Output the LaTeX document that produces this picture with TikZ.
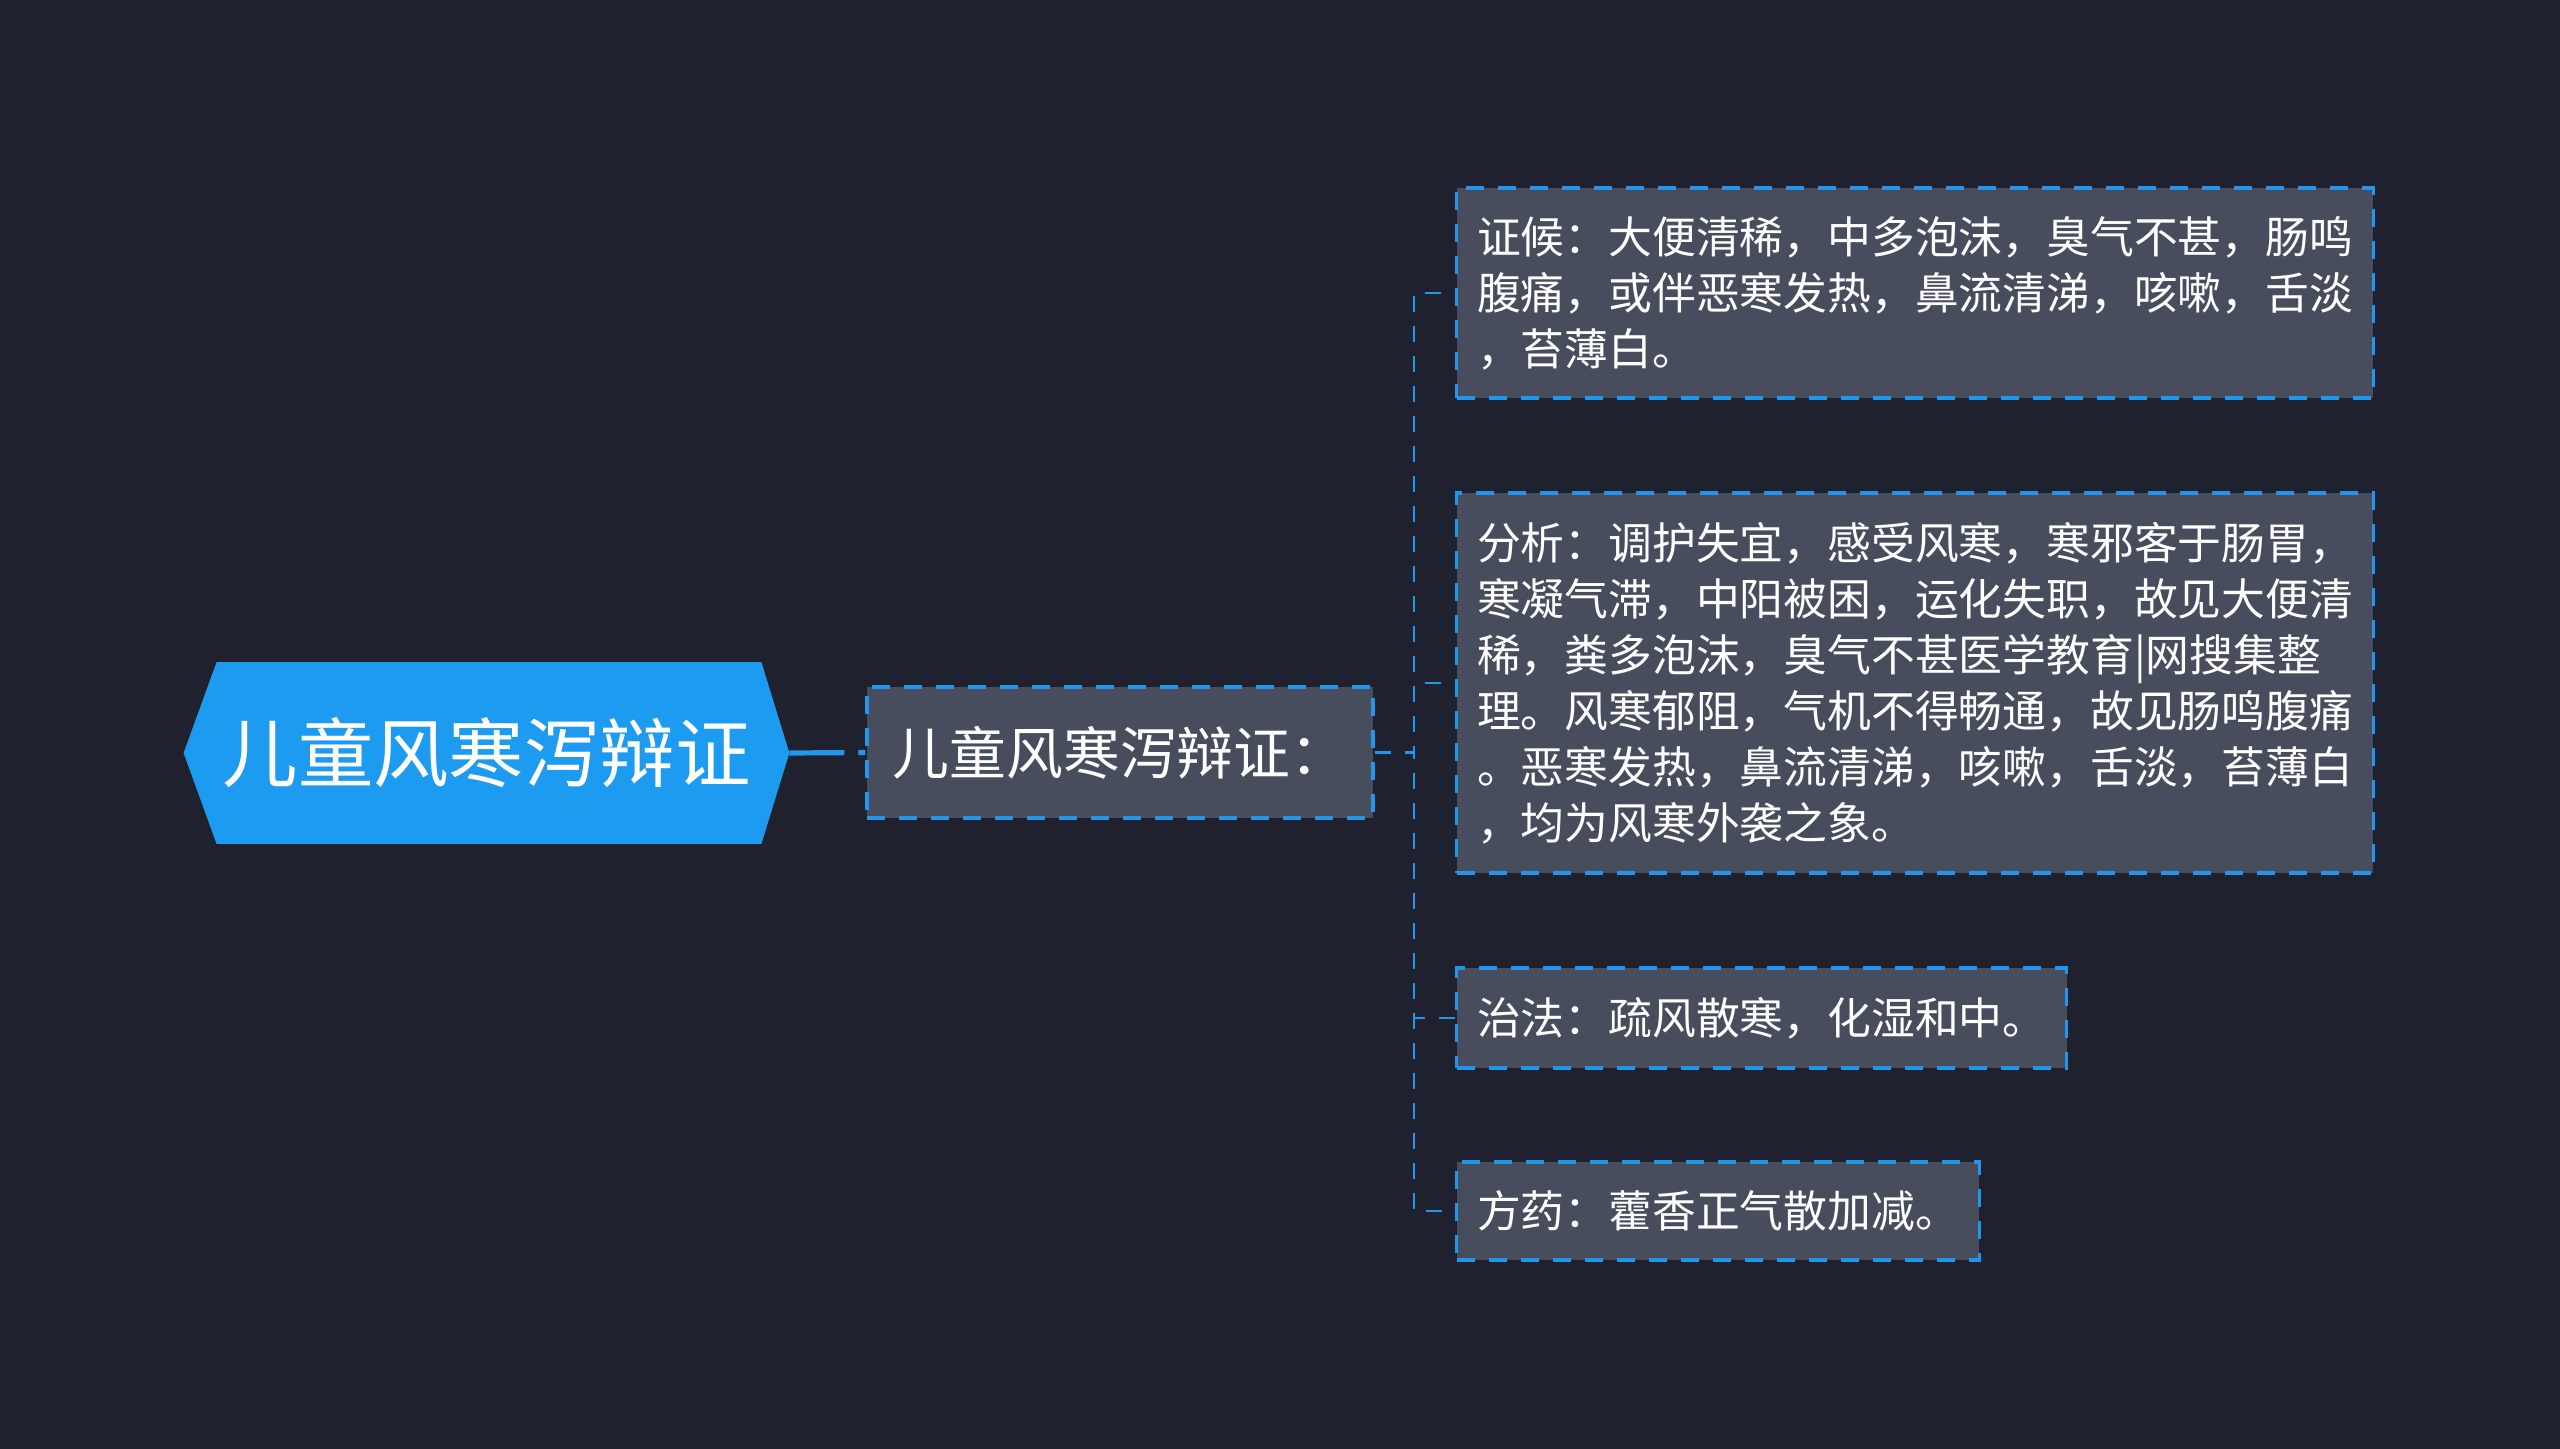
\documentclass[tikz,border=0pt]{standalone}
\usepackage{fontspec}
\newfontfamily\cjk{Noto Sans CJK SC}
\usetikzlibrary{calc}
\definecolor{bgcol}{HTML}{1F222E}
\definecolor{boxcol}{HTML}{474D5C}
\definecolor{linecol}{HTML}{2196EA}
\definecolor{rootcol}{HTML}{1D9BF0}
\pgfdeclarelayer{bg}
\pgfsetlayers{bg,main}
\tikzset{
  rootbox/.style={inner sep=0pt, minimum width=302.5pt, minimum height=90.5pt, text=white,
    font=\cjk\fontsize{37.7pt}{45pt}\selectfont},
  mainbox/.style={draw=linecol, fill=boxcol, line width=1.6pt, dash pattern=on 9pt off 7pt,
    inner xsep=12.9pt, inner ysep=0pt, minimum height=65.5pt, text=white,
    font=\cjk\fontsize{28.4pt}{34pt}\selectfont},
  leafbox/.style={draw=linecol, fill=boxcol, line width=1.6pt, dash pattern=on 9pt off 7pt,
    inner xsep=10.2pt, inner ysep=0pt, align=left, anchor=west, text=white,
    font=\cjk\fontsize{21.9pt}{28pt}\selectfont},
  link/.style={draw=linecol, line width=1.4pt, dash pattern=on 8pt off 7pt},
  rootlink/.style={draw=linecol, line width=2.6pt, dash pattern=on 27.5pt off 7pt on 5pt off 10pt}
}
\begin{document}
\begin{tikzpicture}[x=0.5pt, y=-0.5pt]
\useasboundingbox (0,0) rectangle (2560,1449);
\node[rootbox] (root) at (486.5,753) {儿童风寒泻辩证};
\node[mainbox] (main) at (1120,752.5) {儿童风寒泻辩证：};
\node[leafbox, minimum height=105pt] (c1) at (1455,293) {证候：大便清稀，中多泡沫，臭气不甚，肠鸣\\腹痛，或伴恶寒发热，鼻流清涕，咳嗽，舌淡\\，苔薄白。};
\node[leafbox, minimum height=190pt] (c2) at (1455,683) {分析：调护失宜，感受风寒，寒邪客于肠胃，\\寒凝气滞，中阳被困，运化失职，故见大便清\\稀，粪多泡沫，臭气不甚医学教育|网搜集整\\理。风寒郁阻，气机不得畅通，故见肠鸣腹痛\\。恶寒发热，鼻流清涕，咳嗽，舌淡，苔薄白\\，均为风寒外袭之象。};
\node[leafbox, minimum height=50pt] (c3) at (1455,1018) {治法：疏风散寒，化湿和中。};
\node[leafbox, minimum height=49pt] (c4) at (1455,1211) {方药：藿香正气散加减。};
\coordinate (trunk) at (1414,752.5);
\begin{pgfonlayer}{bg}
\fill[bgcol] (0,0) rectangle (2560,1449);
\fill[rootcol] (root.west) -- ($(root.north west)+(33,0)$) -- ($(root.north east)+(-28,0)$)
  -- (root.east) -- ($(root.south east)+(-28,0)$) -- ($(root.south west)+(33,0)$) -- cycle;
\draw[rootlink] (root.east) -- (main.west);
\foreach \c in {c1,c2,c3,c4}{
  \draw[link] (main.east) -- (trunk) |- (\c.west);
}
\end{pgfonlayer}
\end{tikzpicture}
\end{document}
